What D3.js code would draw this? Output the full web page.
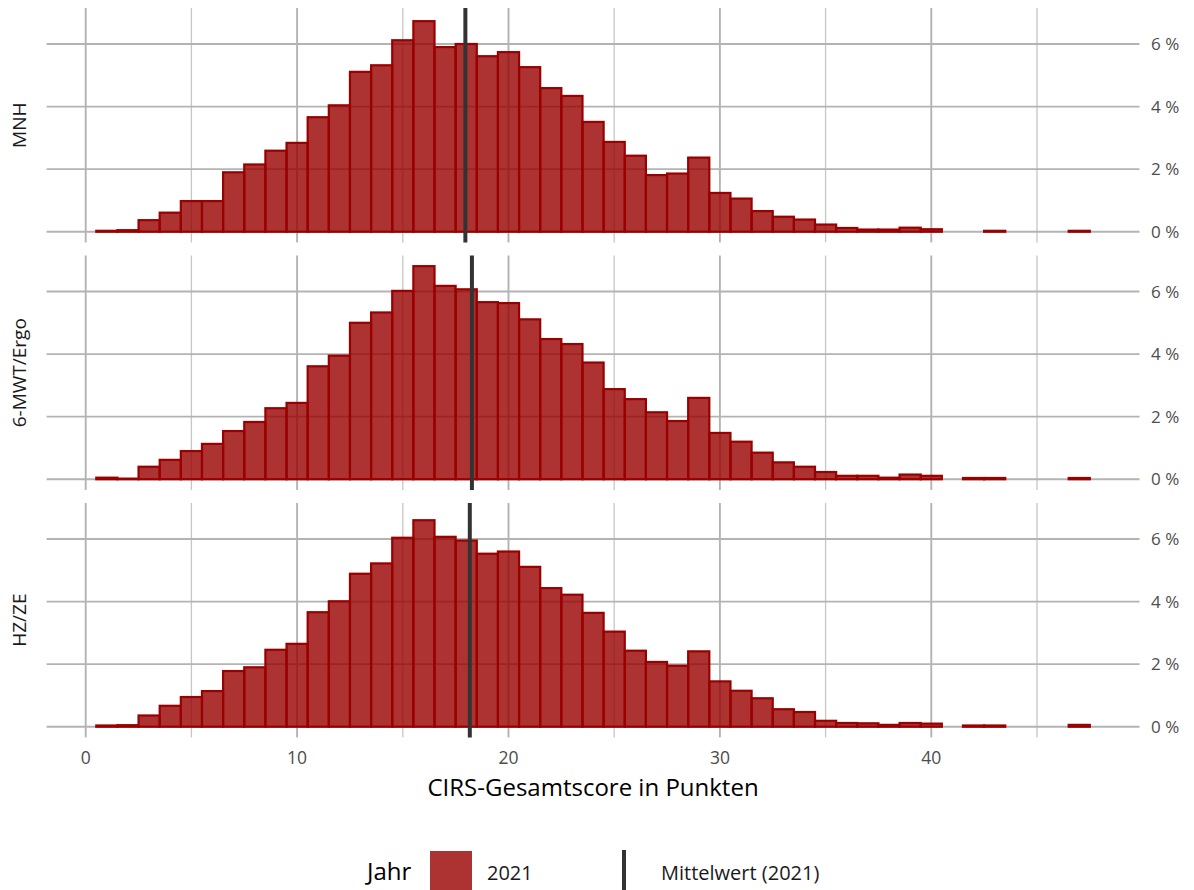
<!DOCTYPE html>
<html>
<head>
<meta charset="utf-8">
<script src="https://cdn.jsdelivr.net/npm/d3@7"></script>
<style>
  body { margin: 0; background: #fff; }
  text { font-family: "Open Sans", sans-serif; }
</style>
</head>
<body>
<script>
// Bin centres (width 1) of the CIRS total score
var bins = [1, 2, 3, 4, 5, 6, 7, 8, 9, 10, 11, 12, 13, 14, 15, 16, 17, 18, 19, 20,
            21, 22, 23, 24, 25, 26, 27, 28, 29, 30, 31, 32, 33, 34, 35, 36, 37, 38, 39, 40,
            41, 42, 43, 44, 45, 46, 47];

// Share of patients per bin in percent (0 = no bar)
var mnh = [0.03, 0.05, 0.37, 0.61, 0.98, 0.98, 1.90, 2.15, 2.59, 2.84, 3.66, 4.04, 5.11, 5.32, 6.12, 6.73, 5.90, 6.00, 5.61, 5.74,
           5.26, 4.59, 4.34, 3.51, 2.87, 2.43, 1.81, 1.86, 2.37, 1.24, 1.06, 0.66, 0.48, 0.39, 0.23, 0.12, 0.07, 0.07, 0.13, 0.08,
           0, 0, 0.03, 0, 0, 0, 0.03];
var mwt = [0.05, 0.02, 0.40, 0.62, 0.90, 1.13, 1.54, 1.83, 2.27, 2.44, 3.61, 3.95, 5.00, 5.33, 6.02, 6.81, 6.18, 6.07, 5.66, 5.63,
           5.11, 4.48, 4.32, 3.73, 2.88, 2.56, 2.14, 1.86, 2.60, 1.48, 1.20, 0.85, 0.54, 0.40, 0.23, 0.11, 0.11, 0.05, 0.15, 0.11,
           0, 0.04, 0.04, 0, 0, 0, 0.04];
var hzze = [0.04, 0.05, 0.36, 0.67, 0.95, 1.14, 1.78, 1.90, 2.46, 2.65, 3.66, 4.01, 4.89, 5.22, 6.04, 6.60, 6.07, 5.95, 5.53, 5.60,
            5.11, 4.43, 4.22, 3.64, 3.04, 2.43, 2.07, 1.95, 2.41, 1.45, 1.15, 0.91, 0.56, 0.47, 0.19, 0.12, 0.11, 0.06, 0.12, 0.10,
            0, 0.04, 0.04, 0, 0, 0, 0.06];

var groups = ["MNH", "6-MWT/Ergo", "HZ/ZE"];
var series = [mnh, mwt, hzze];
var means = [17.96, 18.27, 18.17];

var xTicks = [0, 10, 20, 30, 40];
var xMinor = [5, 15, 25, 35, 45];
var yTicks = [0, 2, 4, 6];

var width = 1194, height = 890;
var panel = { left: 46.6, right: 1139.5, top: 8, height: 234.4, step: 247.5 };

var svg = d3.select("body").append("svg")
    .attr("width", width)
    .attr("height", height);

// x scale with ggplot-like 5% expansion around the bin edges
var xMin = d3.min(bins) - 0.5, xMax = d3.max(bins) + 0.5;
var xPad = (xMax - xMin) * 0.05;
var x = d3.scaleLinear().domain([xMin - xPad, xMax + xPad]).range([panel.left, panel.right]);

// shared y domain
var yMax = d3.max(series, function (s) { return d3.max(s); });
var yPad = yMax * 0.05;

var fillCol = "#990000";
var gridCol = "#b3b3b3";

groups.forEach(function (name, i) {
    var top = panel.top + i * panel.step;
    var y = d3.scaleLinear().domain([-yPad, yMax + yPad]).range([top + panel.height, top]);
    var g = svg.append("g").attr("class", "panel");

    // minor vertical grid
    g.selectAll("line.minor").data(xMinor).enter().append("line")
        .attr("class", "minor")
        .attr("x1", function (d) { return x(d); }).attr("x2", function (d) { return x(d); })
        .attr("y1", top).attr("y2", top + panel.height)
        .attr("stroke", "#c6c6c6").attr("stroke-width", 1.3);

    // major grid
    g.selectAll("line.vmajor").data(xTicks).enter().append("line")
        .attr("class", "vmajor")
        .attr("x1", function (d) { return x(d); }).attr("x2", function (d) { return x(d); })
        .attr("y1", top).attr("y2", top + panel.height)
        .attr("stroke", gridCol).attr("stroke-width", 1.9);

    g.selectAll("line.hmajor").data(yTicks).enter().append("line")
        .attr("class", "hmajor")
        .attr("x1", panel.left).attr("x2", panel.right)
        .attr("y1", function (d) { return y(d); }).attr("y2", function (d) { return y(d); })
        .attr("stroke", gridCol).attr("stroke-width", 1.9);

    // histogram bars
    var data = bins.map(function (b, j) { return { b: b, v: series[i][j] }; })
        .filter(function (d) { return d.v > 0; });

    g.selectAll("rect.bar").data(data).enter().append("rect")
        .attr("class", "bar")
        .attr("x", function (d) { return x(d.b - 0.5); })
        .attr("width", function (d) { return x(d.b + 0.5) - x(d.b - 0.5); })
        .attr("y", function (d) { return y(d.v); })
        .attr("height", function (d) { return y(0) - y(d.v); })
        .attr("fill", fillCol).attr("fill-opacity", 0.8)
        .attr("stroke", fillCol).attr("stroke-width", 2.2);

    // mean line
    g.append("line")
        .attr("x1", x(means[i])).attr("x2", x(means[i]))
        .attr("y1", top).attr("y2", top + panel.height)
        .attr("stroke", "#333333").attr("stroke-width", 4);

    // y labels on the right
    g.selectAll("text.ylab").data(yTicks).enter().append("text")
        .attr("class", "ylab")
        .attr("x", 1151)
        .attr("y", function (d) { return y(d); })
        .attr("dy", "0.36em")
        .attr("fill", "#4d4d4d")
        .style("font-size", "17px")
        .text(function (d) { return d + " %"; });

    // facet strip label
    g.append("text")
        .attr("transform", "translate(26," + (top + panel.height / 2) + ") rotate(-90)")
        .attr("text-anchor", "middle")
        .attr("fill", "#1a1a1a")
        .style("font-size", "19px")
        .text(name);
});

// x tick labels
svg.selectAll("text.xlab").data(xTicks).enter().append("text")
    .attr("class", "xlab")
    .attr("x", function (d) { return x(d); })
    .attr("y", 764)
    .attr("text-anchor", "middle")
    .attr("fill", "#4d4d4d")
    .style("font-size", "17.5px")
    .text(function (d) { return d; });

// x axis title
svg.append("text")
    .attr("x", (panel.left + panel.right) / 2)
    .attr("y", 796)
    .attr("text-anchor", "middle")
    .attr("fill", "#000000")
    .style("font-size", "24px")
    .text("CIRS-Gesamtscore in Punkten");

// legend
var leg = svg.append("g");
leg.append("text").attr("x", 367).attr("y", 880)
    .attr("fill", "#000000").style("font-size", "24px").text("Jahr");
leg.append("rect").attr("x", 430).attr("y", 851).attr("width", 42).attr("height", 44)
    .attr("fill", fillCol).attr("fill-opacity", 0.8);
leg.append("text").attr("x", 487).attr("y", 880)
    .attr("fill", "#1a1a1a").style("font-size", "20px").text("2021");
leg.append("line").attr("x1", 624).attr("x2", 624).attr("y1", 850).attr("y2", 895)
    .attr("stroke", "#333333").attr("stroke-width", 4);
leg.append("text").attr("x", 661).attr("y", 880)
    .attr("fill", "#1a1a1a").style("font-size", "20px").text("Mittelwert (2021)");
</script>
</body>
</html>
